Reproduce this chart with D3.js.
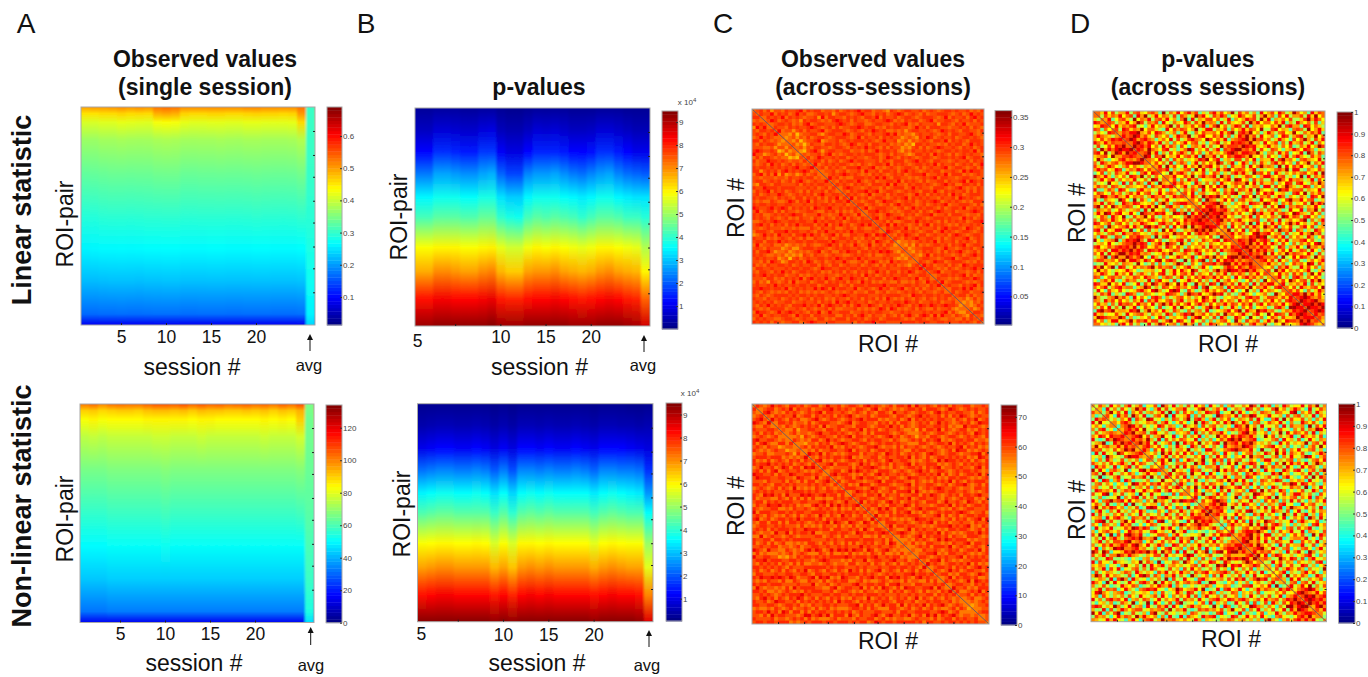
<!DOCTYPE html>
<html>
<head>
<meta charset="utf-8">
<style>
	body { margin: 0; background: #fff; }
	text { font-family: "Liberation Sans", Arial, sans-serif; fill: #111; }
	.bar-axis text { font-size: 8px; fill: #444; }
	.bar-axis line { stroke: #333; }
	.bar-axis path { stroke: none; }
	.edge-axis path { stroke: none; }
	.edge-axis line { stroke: #222; }
</style>
<script src="https://cdnjs.cloudflare.com/ajax/libs/d3/7.8.5/d3.min.js"></script>
</head>
<body>
<div id="chart"></div>
<script>
// values are read off the picture by eye. the ROI matrices are a coarser 64x64 hand estimate:
// blocks and overall colour follow the reference, single cells do not.

var sessions = d3.range(1, 27);
var sessionTicks = [5, 10, 15, 20];
var edgeTicks = [0.11, 0.22, 0.32, 0.43, 0.53, 0.64, 0.74, 0.85];

// fraction of the ROI-pair axis where each session column below has a value
var rowsObserved = [0, 0.03, 0.07, 0.15, 0.3, 0.5, 0.65, 0.8, 0.95, 1];
var rowsPvalues = [0, 0.1, 0.2, 0.3, 0.41, 0.5, 0.64, 0.75, 0.88, 1];

var observedLinear = [
	[.500,.455,.410,.370,.333,.292,.260,.222,.168,.090],
	[.505,.455,.410,.370,.335,.292,.262,.222,.168,.090],
	[.505,.460,.415,.375,.338,.296,.264,.224,.170,.090],
	[.510,.460,.415,.375,.340,.297,.264,.225,.170,.090],
	[.515,.465,.420,.378,.340,.297,.265,.225,.171,.090],
	[.510,.460,.418,.376,.339,.296,.264,.225,.170,.090],
	[.515,.462,.416,.375,.340,.297,.265,.224,.170,.090],
	[.510,.460,.415,.376,.340,.298,.266,.226,.171,.090],
	[.530,.490,.430,.380,.343,.298,.266,.226,.172,.090],
	[.535,.495,.432,.382,.344,.299,.267,.227,.172,.090],
	[.530,.490,.430,.380,.344,.299,.267,.227,.172,.090],
	[.515,.465,.420,.376,.338,.296,.265,.225,.170,.090],
	[.515,.462,.416,.375,.338,.296,.265,.225,.170,.090],
	[.515,.462,.416,.376,.339,.297,.265,.225,.171,.090],
	[.515,.465,.418,.376,.339,.297,.266,.226,.171,.090],
	[.515,.465,.418,.378,.340,.297,.266,.226,.171,.090],
	[.515,.462,.416,.376,.339,.296,.265,.225,.170,.090],
	[.515,.462,.416,.375,.339,.296,.265,.225,.170,.090],
	[.520,.465,.420,.378,.340,.297,.265,.225,.171,.090],
	[.520,.468,.420,.378,.341,.298,.266,.226,.171,.090],
	[.515,.465,.418,.376,.340,.297,.266,.226,.171,.090],
	[.515,.465,.418,.376,.339,.297,.265,.225,.170,.090],
	[.515,.462,.418,.376,.339,.296,.265,.225,.170,.090],
	[.515,.465,.420,.378,.340,.297,.265,.225,.170,.090],
	[.530,.505,.460,.385,.345,.300,.267,.227,.172,.090],
	[.305,.305,.305,.305,.303,.295,.285,.275,.260,.240]
];

var observedNonlinear = [
	[102,90,83,75,66,57,50,43,32,15],
	[104,91,85,76,66,57,50,43,32,15],
	[100,89,83,75,66,57,50,43,32,15],
	[103,90,84,76,67,58,51,44,33,15],
	[104,91,84,76,67,58,51,44,33,15],
	[103,91,84,76,67,58,51,44,33,15],
	[103,90,84,76,67,58,51,44,33,15],
	[105,92,85,76,67,58,51,44,33,15],
	[107,93,85,77,67,58,51,44,33,15],
	[107,93,85,77,68,59,52,44,33,15],
	[106,92,85,76,67,58,51,44,33,15],
	[108,93,85,76,67,58,51,44,33,15],
	[105,91,84,76,67,58,51,44,33,15],
	[107,93,85,77,67,58,51,44,33,15],
	[105,92,85,76,67,58,51,44,33,15],
	[106,92,84,76,67,58,51,44,33,15],
	[104,91,84,76,67,58,51,44,33,15],
	[105,91,84,76,67,58,51,44,33,15],
	[106,92,84,76,67,58,51,44,33,15],
	[104,91,84,76,67,58,51,44,33,15],
	[105,92,85,77,67,58,51,44,33,15],
	[103,90,84,76,67,58,51,44,33,15],
	[106,92,85,76,67,58,51,44,33,15],
	[104,91,84,76,67,58,51,44,33,15],
	[108,94,90,78,68,59,51,44,33,15],
	[66,66,65,65,64,62,60,58,54,46]
];

var pvaluesLinear = [
	[.25,.60,1.2,2.3,3.5,4.2,5.9,6.7,8.2,9.2],
	[.25,.60,1.2,2.3,3.5,4.2,5.9,6.7,8.2,9.2],
	[.30,.80,1.6,2.7,3.7,4.4,6.0,7.0,8.4,9.3],
	[.30,.80,1.6,2.7,3.7,4.4,6.0,7.0,8.4,9.3],
	[.30,.75,1.5,2.6,3.7,4.4,6.0,6.9,8.3,9.3],
	[.25,.70,1.4,2.5,3.6,4.3,5.9,6.8,8.3,9.3],
	[.25,.70,1.4,2.5,3.6,4.3,5.9,6.8,8.3,9.3],
	[.30,.85,1.7,2.7,3.8,4.5,6.0,7.0,8.4,9.3],
	[.30,.90,1.7,2.8,3.8,4.5,6.05,7.1,8.5,9.4],
	[.20,.55,1.1,2.1,3.3,4.0,5.7,6.6,8.1,9.2],
	[.15,.45,.90,1.8,3.1,3.8,5.5,6.4,8.0,9.2],
	[.15,.45,.90,1.8,3.1,3.7,5.5,6.4,8.0,9.2],
	[.20,.60,1.2,2.4,3.5,4.2,5.8,6.8,8.2,9.3],
	[.25,.80,1.5,2.6,3.7,4.4,6.0,6.9,8.3,9.3],
	[.25,.75,1.5,2.6,3.7,4.3,5.9,6.9,8.3,9.3],
	[.25,.80,1.5,2.7,3.7,4.4,6.0,7.0,8.4,9.3],
	[.25,.70,1.4,2.5,3.6,4.3,5.9,6.8,8.3,9.3],
	[.20,.60,1.2,2.3,3.5,4.2,5.8,6.7,8.2,9.2],
	[.20,.60,1.2,2.2,3.4,4.0,5.7,6.6,8.1,9.2],
	[.20,.65,1.3,2.4,3.5,4.2,5.8,6.7,8.2,9.2],
	[.25,.80,1.6,2.6,3.7,4.4,6.0,6.9,8.3,9.3],
	[.25,.80,1.6,2.7,3.7,4.4,6.0,7.0,8.4,9.3],
	[.25,.70,1.4,2.4,3.5,4.3,5.9,6.8,8.3,9.3],
	[.20,.60,1.2,2.2,3.4,4.1,5.8,6.7,8.1,9.2],
	[.20,.50,1.0,2.1,3.3,4.1,5.7,6.6,8.0,9.1],
	[.20,.50,1.0,2.0,3.3,3.9,5.2,6.0,7.4,8.7]
];

var pvaluesNonlinear = [
	[.20,.45,1.0,2.2,3.5,4.3,5.9,6.8,8.2,9.4],
	[.20,.50,1.1,2.3,3.6,4.4,5.95,6.9,8.3,9.4],
	[.20,.55,1.2,2.4,3.7,4.5,6.0,7.0,8.4,9.4],
	[.20,.55,1.2,2.4,3.7,4.5,6.0,7.0,8.4,9.4],
	[.20,.50,1.1,2.3,3.6,4.4,5.95,6.9,8.3,9.4],
	[.20,.50,1.1,2.3,3.6,4.4,5.95,6.9,8.3,9.4],
	[.20,.55,1.2,2.4,3.7,4.4,6.0,6.9,8.3,9.4],
	[.20,.50,1.1,2.3,3.6,4.4,5.95,6.9,8.3,9.4],
	[.15,.40,.90,2.0,3.3,4.1,5.6,6.6,8.1,9.3],
	[.20,.50,1.1,2.3,3.6,4.4,5.9,6.8,8.3,9.4],
	[.15,.40,.90,1.9,3.2,4.0,5.6,6.5,8.0,9.3],
	[.20,.55,1.2,2.4,3.6,4.4,6.0,6.9,8.3,9.4],
	[.20,.55,1.2,2.4,3.7,4.5,6.0,7.0,8.4,9.4],
	[.20,.50,1.1,2.3,3.6,4.4,5.95,6.9,8.3,9.4],
	[.20,.55,1.2,2.4,3.7,4.5,6.0,7.0,8.4,9.4],
	[.20,.50,1.1,2.3,3.6,4.4,5.95,6.9,8.3,9.4],
	[.20,.50,1.1,2.3,3.6,4.4,5.95,6.9,8.3,9.4],
	[.20,.55,1.2,2.4,3.6,4.4,5.95,6.9,8.3,9.4],
	[.20,.50,1.1,2.3,3.6,4.4,5.95,6.9,8.3,9.4],
	[.15,.45,1.0,2.1,3.4,4.2,5.7,6.7,8.2,9.3],
	[.20,.55,1.2,2.4,3.6,4.4,5.95,6.9,8.3,9.4],
	[.20,.55,1.2,2.4,3.7,4.5,6.0,7.0,8.4,9.4],
	[.20,.50,1.2,2.3,3.6,4.4,5.95,6.9,8.3,9.4],
	[.15,.50,1.1,2.3,3.5,4.3,5.9,6.8,8.3,9.4],
	[.15,.45,1.0,2.2,3.4,4.3,5.9,6.8,8.2,9.3],
	[.20,.50,.90,1.6,2.6,3.6,5.0,5.7,7.1,8.6]
];

// upper triangle of each ROI matrix, one digit per cell, 0-9 index the levels list.
// spaces only help to keep the columns lined up in groups of eight
var levelsObservedLinear = [.14, .18, .21, .235, .25, .265, .28, .29, .30, .315];
var levelsObservedNonlinear = [28, 35, 41, 46, 50, 53, 56, 59, 62, 66];
var levelsPvaluesLinear = [.40, .48, .55, .62, .67, .72, .77, .82, .88, .96];
var levelsPvaluesNonlinear = [.36, .44, .52, .58, .64, .70, .75, .81, .88, .96];

var matrixObservedLinear = [
'7868577 68778968 78867768 67878978 86776587 67887786 78767887 87786768',
'877968 78679786 67887857 88767897 76878678 98678768 67788876 78679787',
'68787 96878767 78596887 76878768 87968778 67887678 88767968 77868978',
'7986 78767587 88767689 87868776 78778986 76878867 89677887 68778687',
'678 87867689 67887778 98767886 67887768 78967687 77858876 87967778',
'87 76878778 98767868 67788987 88676878 87767978 68887767 78786876',
'9 67757868 77896788 87678768 79878667 67578877 87679878 76887768',
'66574677 88657887 79867887 68778979 67665787 78767868 87789767',
'5675768 67887678 88767968 77868787 75676587 98678778 67887876',
'657467 78956778 67878887 87679778 56757678 76887968 78768887',
'75646 87768878 76798678 68877867 67564887 87767687 88679787',
'6757 68877678 87687879 78768687 75657868 67898778 76878678',
'547 89757887 78867768 67978878 65768778 78767887 87887968',
'76 77868967 67887878 88767868 77656887 86978768 67878776',
'8 67987787 88678776 78867987 68787678 87678878 78967887',
'78868678 67897887 77868768 88678978 76887767 87786878',
'9678787 88767687 67887968 78767887 87968778 67878679',
'786878 76888977 89676787 67887686 78778967 88767868',
'67786 78677869 77868878 68978767 87886778 76979887',
'6787 89878767 68787678 78678889 67787968 88676787',
'978 67668887 87979768 87767678 78968877 67887767',
'76 87887976 78677887 96878768 67788687 78969878',
'8 78768787 68887969 77687887 87678978 66887868',
'68987767 87768678 88679787 76888767 89767687',
'7687889 78967887 67878768 87976878 77868687',
'878767 96778687 88767978 68787869 78678887',
'96878 67887678 78968787 87768778 69878767',
'7767 88679887 67878678 78986787 87676888',
'886 78767868 97887678 67878967 78887686',
'79 67888776 78679787 88768678 87967878',
'6 88978767 67887868 76898778 67778987',
'78767987 76878678 89677868 88767768',
'8967878 98767887 67888787 76978678',
'778686 67887978 78768687 87867889',
'87969 78767868 96878767 68778787',
'6878 87967687 77868978 87698768',
'987 68878767 88679787 67887678',
'76 87987688 67877868 98767887',
'8 76878977 88768678 77896787',
'56676787 87968778 68787687',
'6575867 67887868 78967887',
'756778 88767977 67878678',
'65768 78768687 89767868',
'7657 96878776 78678978',
'678 87767889 67887768',
'87 67988678 88767687',
'9 78677868 76987888',
'88767687 67878978',
'7896778 87767868',
'678878 78968677',
'87767 67887987',
'9678 88767678',
'787 76878968',
'68 87979767',
'8 67886778',
'78868677',
'6756867',
'565768',
'65687',
'7568',
'887',
'76',
'8'
];

var matrixPvaluesLinear = [
'6483725 58267436 75192648 36857142 68473592 74625183 57386249 63518476',
'274658 36718592 48365271 75249683 27586134 86347259 46173825 57284936',
'58136 74293658 26748351 69182547 73624815 35867294 81546372 24795863',
'7625 48359726 57183264 38627495 65182743 47295836 63748152 85362714',
'384 65782314 83546927 25473681 47936258 72815463 36492785 51873642',
'72 87465936 64218375 76359248 82547163 58476392 27835416 76293584',
'5 76889547 38752461 48216375 56384792 78693514 85267349 32647581',
'86798574 27536148 65924783 37582614 86957283 46138725 78254936',
'7985786 51463827 24786539 73648156 78959674 62485317 36952748',
'689758 74825163 58367241 46825387 87694528 35716284 57248163',
'97868 36284751 73156482 62395777 69878435 84526371 26483597',
'8759 65378241 46982537 25817689 96758273 27631458 63875142',
'679 48152736 85273614 74536897 58876941 56284713 48196275',
'98 27693548 36748195 58273768 87594362 73415826 85327461',
'6 53826174 62435879 36814527 72638154 48279563 16754382',
'47362815 75148263 64972581 38516274 26847351 73592648',
'5829473 28364957 83625174 47283695 65192837 58346172',
'768152 46719382 52847936 76358142 34675928 82164375',
'32947 85263471 37514268 58429673 71842536 46735829',
'6583 37492685 68295714 24763158 85367241 39182647',
'471 62857134 45736829 83517462 27496385 65248173',
'85 74318526 26184357 65938274 46153872 78326495',
'3 58264793 73859246 37246518 82735964 24871536',
'26475183 58316472 76482953 35197846 67254381',
'7381562 34627589 42561738 68345217 83926475',
'485296 87953624 18739265 72486153 26418739',
'63719 65248371 67452183 46823795 58367124',
'5286 78962415 35287649 83516472 43729586',
'748 87596243 58614327 27398165 76254831',
'87 98678526 46837152 65741283 38165927',
'9 78896574 73259684 48267539 85427361',
'87968352 26481735 36529847 62783514',
'7895746 84356712 75182463 47916258',
'865274 57291836 28473695 83524716',
'47183 62748539 64815372 26837145',
'5926 38164725 47296581 75142863',
'684 75238967 83561724 38469572',
'73 46587989 25748163 64285137',
'6 87698578 61374825 57836214',
'78695848 48527316 26473895',
'8967586 73286154 83195647',
'795868 56147382 47628315',
'86759 28364957 65384172',
'7986 65719238 38752946',
'678 47283516 72146358',
'65 84526137 56398274',
'4 36175842 28473615',
'72958364 63582147',
'5384627 47159382',
'682517 85263741',
'47396 36728594',
'8254 64817253',
'637 28546739',
'74 73162485',
'8 86958473',
'78986574',
'9878965',
'889798',
'98879',
'7898',
'867',
'75',
'4'
];

var matrixObservedNonlinear = [
'8767978 76887867 88679778 67887689 78767868 87969778 76878687 78867787',
'678867 87968778 67788978 78768876 89678767 67887868 88767987 67878778',
'89767 68787678 78968877 87678768 76887697 78767887 68978778 87768678',
'7687 87796788 68787868 78976778 67888768 87678978 77868687 98767877',
'978 76878667 89767887 67878978 88676778 67968787 87887768 76879678',
'68 87867768 67888776 78967887 76878686 88767878 67978767 87867988',
'7 68767878 78696778 87768887 67887978 68767887 78878676 69788767',
'76685778 87768878 67887968 78678778 76675868 87968767 88676878',
'6786776 78977887 87678768 68888767 87666787 67887678 78769878',
'667587 67887768 78968877 87678978 67875776 88767887 67878768',
'87676 88679787 67788768 78877687 66787868 78967678 87886776',
'6657 76878678 98767887 67878878 77666887 67887968 78768787',
'786 87887967 68787678 89767768 68778767 87678778 96878676',
'67 68677887 78968778 67887878 76687887 78767869 88676787',
'9 87968767 67888687 78769878 67878768 98767887 67788968',
'76878788 78967677 88678778 87968768 67887878 78676987',
'8967687 67887868 78768977 88767678 76979887 87868768',
'778968 88767978 67878687 78968778 88676787 68787878',
'87677 77868788 98767687 67887868 78967787 87768968',
'6788 67979878 76888767 87678978 67887678 78878767',
'897 88767687 68978778 78767887 87968678 67887968',
'76 78868978 87676887 67988778 78676887 88767678',
'8 67887767 78968878 87768767 68787968 76878887',
'78676988 67888767 78968778 87678678 89767868',
'8887767 98767887 67878678 78987787 67768878',
'679878 78677868 88969767 67887887 78767678',
'87768 87968778 67788687 98767878 68878977',
'7887 67887678 87967887 78768767 87886768',
'968 78768978 67878768 88679778 76987687',
'77 88676887 79868777 67887968 78678878',
'8 67979768 87678978 88767687 67887778',
'76887868 78967687 67878878 98767786',
'9676878 87888767 78968678 67887887',
'878767 67679887 87767868 78678969',
'68887 78767878 96878677 87768778',
'7968 87887767 67888978 78967687',
'876 67968787 78676887 88767868',
'78 98767878 87968767 67887978',
'6 87678968 78878687 76888767',
'66768787 67979878 88676778',
'7686768 87767687 78968878',
'667878 68887967 87678768',
'76687 78767878 67887968',
'6778 89676887 78767678',
'887 67878778 96878787',
'76 88968767 67788878',
'9 78767887 87968676',
'67887868 78678978',
'8767978 67887768',
'788676 88767987',
'67968 78878667',
'8787 67969878',
'678 87768787',
'97 78676888',
'8 66787968',
'77868787',
'6786678',
'676787',
'56778',
'6677',
'788',
'67',
'7'
];

var matrixPvaluesNonlinear = [
'3752846 26835714 47196382 52738461 84261573 36497285 71528634 48375926',
'518362 74259683 15837246 68324795 25748136 52873614 37946258 63182475',
'26947 38164725 63582917 27461538 76813492 84135276 52764389 16472853',
'7418 57296381 26749183 45816273 31975648 27698345 84351726 72538164',
'352 64817539 83415276 36927851 58264713 65372841 16829374 47251638',
'64 78625346 57268314 74139286 24738596 38516724 75483162 28647315',
'1 67985724 24873651 28546173 67352418 75946283 43618275 56192748',
'57868493 36152874 62397548 48213675 76849251 82574316 37265984',
'8795672 78436215 45718263 75684132 68957346 15392847 64728153',
'678947 25694381 37264815 23957486 87685239 47263581 28546371',
'86759 52817364 76438152 61475897 95678124 36718452 71384265',
'7968 38245719 28574936 47829678 58796453 62184735 45926738',
'578 64731528 53186274 26318567 69875246 78452613 26157394',
'86 17483625 64925318 85246789 76583192 25837164 83467251',
'5 46295837 38471625 37518426 14672538 63948275 47213586',
'73158264 75236481 62847315 48395672 25716384 36984157',
'2684917 14863592 48571736 73264158 84253671 52136748',
'485326 67329581 37162849 25687314 61739485 74825963',
'71638 28475136 65823471 48137296 37562841 28476315',
'5294 53186724 26948573 76492518 45128637 83157269',
'836 76294381 84135267 31758642 28694513 46382715',
'47 38152647 57328416 62874135 73516842 14729386',
'2 64738215 23674958 48315276 36872154 65183427',
'85126473 76451382 27583164 54237698 38746215',
'3749268 38296547 83614725 18624375 62915384',
'628415 64173825 46187293 75386142 47238516',
'47592 25847136 72539864 36147258 85362174',
'8136 87365249 15728346 82935467 26481753',
'274 58976142 64382517 47516283 73152648',
'65 78698357 38745162 65278341 18467325',
'8 67875293 25164738 27481596 54736281',
'96784125 73895246 38652714 82147365',
'7856348 46217583 64139528 36825174',
'638271 85463172 25748136 47196283',
'25748 37182649 76253481 68534712',
'1685 64593827 37862415 25317846',
'473 26746589 58431672 74682135',
'82 57887964 16274583 38165427',
'5 76895738 82536147 47219386',
'68795847 47381256 65824173',
'8965738 25764381 17463825',
'785964 63182745 58237146',
'67895 38526714 26741583',
'8576 74251836 83196245',
'948 16874352 45783162',
'67 52396487 27168435',
'3 28473651 64352781',
'51682473 38725146',
'3725864 75163429',
'468153 26847315',
'72936 47512863',
'5184 83264571',
'267 16738245',
'83 58492637',
'4 67898524',
'89765847',
'7989678',
'898786',
'97868',
'5896',
'758',
'63',
'2'
];

var width = 1368;
var height = 677;
var size = 64;

var svg = d3.select('#chart').append('svg')
	.attr('width', width).attr('height', height);
var defs = svg.append('defs');

defs.append('filter').attr('id', 'soft-columns')
	.append('feGaussianBlur').attr('stdDeviation', '0.8 0');
defs.append('filter').attr('id', 'soft-cells')
	.attr('x', '-5%').attr('y', '-5%').attr('width', '110%').attr('height', '110%')
	.append('feGaussianBlur').attr('stdDeviation', 0.6);

// MATLAB jet
var jet = d3.scaleLinear()
	.domain([0, 0.125, 0.375, 0.625, 0.875, 1])
	.range(['#00007f', '#0000ff', '#00ffff', '#ffff00', '#ff0000', '#7f0000'])
	.clamp(true);

function colorFor(domain) {
	return v => jet((v - domain[0]) / (domain[1] - domain[0]));
}

drawSessionPanel({ id: 'a1', x: [81, 315], y: [107, 325], values: observedLinear, rows: rowsObserved,
	domain: [0.013, 0.69], bar: { x: [327, 342], y: [107, 325], ticks: [0.1, 0.2, 0.3, 0.4, 0.5, 0.6] }, tickY: 343 });
drawSessionPanel({ id: 'a2', x: [80, 314], y: [404, 622.5], values: observedNonlinear, rows: rowsObserved,
	domain: [0, 134], bar: { x: [326, 342], y: [405, 622.7], ticks: [0, 20, 40, 60, 80, 100, 120] }, tickY: 640 });
drawSessionPanel({ id: 'b1', x: [415, 650], y: [108, 326], values: pvaluesLinear, rows: rowsPvalues,
	domain: [0, 9.48], bar: { x: [662, 678], y: [111, 329], ticks: d3.range(1, 10), power: [687, 105] }, tickY: 343, shiftFive: [-38, 4] });
drawSessionPanel({ id: 'b2', x: [417.5, 653], y: [403.7, 621.7], values: pvaluesNonlinear, rows: rowsPvalues,
	domain: [0.03, 9.5], bar: { x: [666, 682], y: [403, 621], ticks: d3.range(1, 10), power: [690, 396] }, tickY: 641, shiftFive: [-37, -1] });

drawMatrixPanel({ id: 'c1', x: [752, 984], y: [109, 324], cells: matrixObservedLinear, levels: levelsObservedLinear,
	domain: [0.002, 0.361], diagonal: '#3b4a8c', bar: { x: [995, 1012], y: [110.6, 325], ticks: [0.05, 0.1, 0.15, 0.2, 0.25, 0.3, 0.35] } });
drawMatrixPanel({ id: 'c2', x: [752, 989], y: [404, 624], cells: matrixObservedNonlinear, levels: levelsObservedNonlinear,
	domain: [0, 74], diagonal: '#3b4a8c', bar: { x: [1001, 1017], y: [405, 625], ticks: [0, 10, 20, 30, 40, 50, 60, 70] } });
drawMatrixPanel({ id: 'd1', x: [1093, 1325], y: [111, 326], cells: matrixPvaluesLinear, levels: levelsPvaluesLinear,
	domain: [0, 1], diagonal: '#4a4a78', bar: { x: [1337, 1353], y: [112, 328], ticks: d3.range(0, 1.01, 0.1).map(d => +d.toFixed(1)) } });
drawMatrixPanel({ id: 'd2', x: [1091, 1326.5], y: [404, 621.7], cells: matrixPvaluesNonlinear, levels: levelsPvaluesNonlinear,
	domain: [0, 1], diagonal: '#4a4a78', bar: { x: [1338.5, 1355], y: [404, 623], ticks: d3.range(0, 1.01, 0.1).map(d => +d.toFixed(1)) } });

///////////////////////////////////////////////////////////////////////////
////////// text and arrows ////////////////////////////////////////////////
///////////////////////////////////////////////////////////////////////////
var labels = [
	['A', 26, 33, 28, 400], ['B', 366, 33, 28, 400], ['C', 723, 33, 28, 400], ['D', 1080, 33, 28, 400],
	['Observed values', 205, 67, 23, 700], ['(single session)', 205, 95, 23, 700],
	['p-values', 539, 95, 23, 700],
	['Observed values', 873, 67, 23, 700], ['(across-sessions)', 873, 95, 23, 700],
	['p-values', 1208, 67, 23, 700], ['(across sessions)', 1208, 95, 23, 700],
	['session #', 192, 375, 23, 400], ['session #', 539.5, 375, 23, 400],
	['session #', 194, 671, 23, 400], ['session #', 537, 671, 23, 400],
	['avg', 309, 371, 16.5, 400], ['avg', 643, 371, 16.5, 400],
	['avg', 311, 671, 16.5, 400], ['avg', 647, 671, 16.5, 400],
	['ROI #', 888, 352, 23, 400], ['ROI #', 1228, 352, 23, 400],
	['ROI #', 888, 649, 23, 400], ['ROI #', 1231, 647, 23, 400]
];
var sideLabels = [
	['Linear statistic', 31, 210, 27, 700], ['Non-linear statistic', 31, 506, 27, 700],
	['ROI-pair', 73, 224, 23, 400], ['ROI-pair', 407, 217, 23, 400],
	['ROI-pair', 73, 519, 23, 400], ['ROI-pair', 410, 514, 23, 400],
	['ROI #', 744, 208, 23, 400], ['ROI #', 1085, 213, 23, 400],
	['ROI #', 744, 506, 23, 400], ['ROI #', 1085, 510, 23, 400]
];
var arrows = [[310, 334, 351], [644, 335, 352], [310.7, 627, 645], [649, 630, 647]];

svg.append('g').selectAll('text').data(labels).enter().append('text')
	.attr('x', d => d[1]).attr('y', d => d[2])
	.attr('text-anchor', 'middle')
	.attr('font-size', d => d[3]).attr('font-weight', d => d[4])
	.text(d => d[0]);

svg.append('g').selectAll('text').data(sideLabels).enter().append('text')
	.attr('transform', d => 'translate(' + [d[1], d[2]] + ') rotate(-90)')
	.attr('text-anchor', 'middle')
	.attr('font-size', d => d[3]).attr('font-weight', d => d[4])
	.text(d => d[0]);

var arrow = svg.append('g').selectAll('g').data(arrows).enter().append('g');
arrow.append('line')
	.attr('x1', d => d[0]).attr('x2', d => d[0])
	.attr('y1', d => d[1] + 3).attr('y2', d => d[2])
	.attr('stroke', '#111').attr('stroke-width', 1);
arrow.append('path')
	.attr('d', d => 'M' + [d[0], d[1]] + ' L' + [d[0] + 3, d[1] + 6] + ' L' + [d[0] - 3, d[1] + 6] + ' Z')
	.attr('fill', '#111');

///////////////////////////////////////////////////////////////////////////
////////// panels /////////////////////////////////////////////////////////
///////////////////////////////////////////////////////////////////////////
function drawSessionPanel(p) {
	var x = d3.scaleBand().domain(sessions).range(p.x);
	var y = d3.scaleLinear().domain([0, 1]).range(p.y);
	var color = colorFor(p.domain);

	// each session is a column, a vertical gradient through its values
	var grads = defs.selectAll('.grad-' + p.id)
		.data(p.values).enter().append('linearGradient')
		.classed('grad-' + p.id, true)
		.attr('id', (d, i) => p.id + '-s' + i)
		.attr('x1', 0).attr('x2', 0).attr('y1', 0).attr('y2', 1);
	grads.selectAll('stop')
		.data(d => d.map((v, i) => ({ v: v, at: p.rows[i] })))
		.enter().append('stop')
		.attr('offset', d => d.at)
		.attr('stop-color', d => color(d.v));

	defs.append('clipPath').attr('id', 'clip-' + p.id).append('rect')
		.attr('x', p.x[0]).attr('y', p.y[0])
		.attr('width', p.x[1] - p.x[0]).attr('height', p.y[1] - p.y[0]);

	var g = svg.append('g').attr('clip-path', 'url(#clip-' + p.id + ')');
	g.append('rect')
		.attr('x', p.x[0]).attr('y', p.y[0])
		.attr('width', p.x[1] - p.x[0]).attr('height', p.y[1] - p.y[0])
		.attr('fill', 'url(#' + p.id + '-s0)');
	g.append('g').attr('filter', 'url(#soft-columns)')
		.selectAll('rect').data(sessions).enter().append('rect')
		.attr('x', d => x(d)).attr('y', p.y[0])
		.attr('width', x.bandwidth() + 0.5).attr('height', p.y[1] - p.y[0])
		.attr('fill', (d, i) => 'url(#' + p.id + '-s' + i + ')');

	drawFrame(p, y);

	var axis = svg.append('g').attr('class', 'edge-axis')
		.attr('transform', 'translate(0,' + p.y[1] + ')')
		.call(d3.axisBottom(x).tickValues(sessionTicks).tickSize(-2)
			.tickPadding(p.tickY - p.y[1] - 12));
	axis.selectAll('text')
		.attr('font-size', 17.5)
		.style('font-family', '"Liberation Sans", Arial, sans-serif')
		.attr('fill', '#111');
	if (p.shiftFive) {
		axis.selectAll('.tick').filter(d => d === 5).select('text')
			.attr('transform', 'translate(' + p.shiftFive + ')');
	}

	drawColorbar(p);
}

function drawMatrixPanel(p) {
	var rois = d3.range(size);
	var x = d3.scaleBand().domain(rois).range(p.x);
	var y = d3.scaleBand().domain(rois).range(p.y);
	var color = colorFor(p.domain);

	// typed upper triangle, mirrored below the diagonal
	var cells = [];
	p.cells.forEach((row, i) => {
		row.replace(/ /g, '').split('').forEach((digit, k) => {
			var v = p.levels[+digit];
			cells.push({ row: i, col: i + 1 + k, v: v });
			cells.push({ row: i + 1 + k, col: i, v: v });
		});
	});

	defs.append('clipPath').attr('id', 'clip-' + p.id).append('rect')
		.attr('x', p.x[0]).attr('y', p.y[0])
		.attr('width', p.x[1] - p.x[0]).attr('height', p.y[1] - p.y[0]);

	var g = svg.append('g').attr('clip-path', 'url(#clip-' + p.id + ')');
	g.append('rect')
		.attr('x', p.x[0]).attr('y', p.y[0])
		.attr('width', p.x[1] - p.x[0]).attr('height', p.y[1] - p.y[0])
		.attr('fill', color(p.levels[6]));
	g.append('g').attr('filter', 'url(#soft-cells)')
		.selectAll('rect').data(cells).enter().append('rect')
		.attr('x', d => x(d.col)).attr('y', d => y(d.row))
		.attr('width', x.bandwidth() + 0.3).attr('height', y.bandwidth() + 0.3)
		.attr('fill', d => color(d.v));
	g.append('line')
		.attr('x1', p.x[0]).attr('y1', p.y[0])
		.attr('x2', p.x[1]).attr('y2', p.y[1])
		.attr('stroke', p.diagonal).attr('stroke-width', 1).attr('opacity', 0.7);

	drawFrame(p, d3.scaleLinear().domain([0, 1]).range(p.y));

	svg.append('g').attr('class', 'edge-axis')
		.attr('transform', 'translate(0,' + p.y[1] + ')')
		.call(d3.axisBottom(d3.scaleLinear().domain([0, 1]).range(p.x))
			.tickValues(edgeTicks).tickSize(-2).tickFormat(''));

	drawColorbar(p);
}

function drawFrame(p, y) {
	svg.append('rect')
		.attr('x', p.x[0]).attr('y', p.y[0])
		.attr('width', p.x[1] - p.x[0]).attr('height', p.y[1] - p.y[0])
		.attr('fill', 'none').attr('stroke', '#a8a8a8').attr('stroke-width', 1);
	svg.append('g').attr('class', 'edge-axis')
		.attr('transform', 'translate(' + p.x[1] + ',0)')
		.call(d3.axisRight(y).tickValues(edgeTicks).tickSize(-2).tickFormat(''));
}

function drawColorbar(p) {
	var bar = p.bar;
	var scale = d3.scaleLinear().domain(p.domain).range([bar.y[1], bar.y[0]]);
	var color = colorFor(p.domain);
	var steps = d3.range(64);
	var step = (p.domain[1] - p.domain[0]) / 64;

	svg.append('g').selectAll('rect').data(steps).enter().append('rect')
		.attr('x', bar.x[0])
		.attr('y', d => scale(p.domain[0] + (d + 1) * step))
		.attr('width', bar.x[1] - bar.x[0])
		.attr('height', (bar.y[1] - bar.y[0]) / 64 + 0.4)
		.attr('fill', d => color(p.domain[0] + (d + 0.5) * step));

	svg.append('rect')
		.attr('x', bar.x[0]).attr('y', bar.y[0])
		.attr('width', bar.x[1] - bar.x[0]).attr('height', bar.y[1] - bar.y[0])
		.attr('fill', 'none').attr('stroke', '#a8a8a8').attr('stroke-width', 1);

	var axis = svg.append('g').attr('class', 'bar-axis')
		.attr('transform', 'translate(' + bar.x[1] + ',0)')
		.call(d3.axisRight(scale).tickValues(bar.ticks).tickSize(-2)
			.tickPadding(1).tickFormat(d => String(d)));
	axis.selectAll('text').style('font-family', '"Liberation Sans", Arial, sans-serif');

	if (bar.power) {
		var power = svg.append('text')
			.attr('x', bar.power[0]).attr('y', bar.power[1])
			.attr('text-anchor', 'middle')
			.attr('font-size', 8).attr('fill', '#444')
			.style('fill', '#444')
			.text('x 10');
		power.append('tspan').attr('dy', -3).attr('font-size', 6).text('4');
	}
}
</script>
</body>
</html>
